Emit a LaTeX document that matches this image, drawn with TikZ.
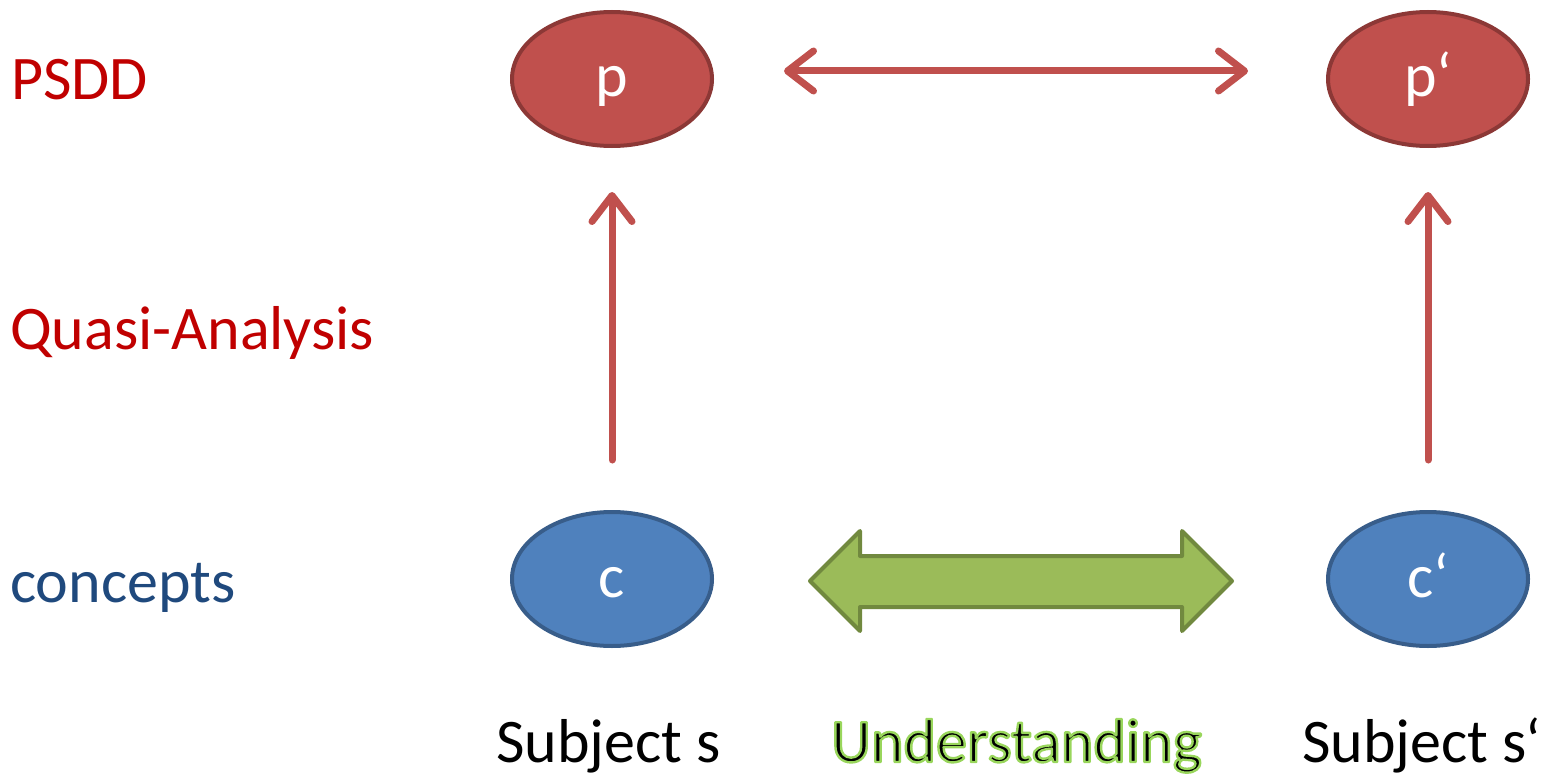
\documentclass[tikz,border=0pt]{standalone}
\usepackage{fontspec}
\setmainfont{Carlito}
\usetikzlibrary{arrows.meta,shapes.geometric}
\definecolor{redfill}{HTML}{C0504D}
\definecolor{redborder}{HTML}{8C3836}
\definecolor{bluefill}{HTML}{4F81BD}
\definecolor{blueborder}{HTML}{385D8A}
\definecolor{greenfill}{HTML}{9BBB59}
\definecolor{greenborder}{HTML}{71893F}
\definecolor{labelred}{HTML}{C00000}
\definecolor{labelblue}{HTML}{1F497D}
\newcommand{\glowtext}[1]{\special{pdf:literal direct 2 Tr 2.4 w 1 j 0.60 0.84 0.36 RG}#1\special{pdf:literal direct 0 Tr}}
\tikzset{
  bigfont/.style={font=\fontsize{62}{74}\selectfont},
  ellbase/.style={ellipse, inner sep=0pt, minimum width=200, minimum height=134,
    line width=4pt, text=white, bigfont, text height=36pt, text depth=0pt},
  redell/.style={ellbase, fill=redfill, draw=redborder},
  blueell/.style={ellbase, fill=bluefill, draw=blueborder},
  redarrow/.style={draw=redfill, line width=7pt, line cap=round,
    {Straight Barb[length=26pt, width=40pt, line cap=round, line join=round]}-{Straight Barb[length=26pt, width=40pt, line cap=round, line join=round]}},
  uparrow/.style={draw=redfill, line width=7pt, line cap=round,
    -{Straight Barb[length=26pt, width=40pt, line cap=round, line join=round]}},
  blockarrow/.style={fill=greenfill, draw=greenborder, line width=4pt, line join=round},
  rowlabel/.style={bigfont, anchor=base west, inner sep=0pt},
  sublabel/.style={bigfont, anchor=base west, inner sep=0pt},
}
\begin{document}
\begin{tikzpicture}[x=1pt, y=-1pt]
\useasboundingbox (0,0) rectangle (1563,781);
% row labels
\node[rowlabel, text=labelred] (lpsdd) at (11,100) {PSDD};
\node[rowlabel, text=labelred] (lqa) at (10,349) {Quasi-Analysis};
\node[rowlabel, text=labelblue] (lconc) at (10,602) {concepts};
% ellipses
\node[redell] (p) at (612,79) {p};
\node[redell] (pp) at (1428,79) {p‘};
\node[blueell] (c) at (612,579) {c};
\node[blueell] (cp) at (1428,579) {c‘};
% red arrows
\draw[redarrow, shorten <=70pt, shorten >=78pt] ([yshift=8pt]p.east) -- ([yshift=8pt]pp.west);
\draw[uparrow, shorten <=50pt, shorten >=44pt] (c.north) -- (p.south);
\draw[uparrow, shorten <=50pt, shorten >=44pt] (cp.north) -- (pp.south);
% green block arrow
\draw[blockarrow] (810,581) -- (860,531) -- (860,556) -- (1182,556) -- (1182,531)
  -- (1232,581) -- (1182,631) -- (1182,607) -- (860,607) -- (860,631) -- cycle;
% bottom labels
\node[sublabel] (s) at (496,762) {Subject s};
\node[sublabel] (u) at (831,762) {\glowtext{Understanding}};
\node[sublabel] (sp) at (1302,762) {Subject s‘};
\end{tikzpicture}
\end{document}
